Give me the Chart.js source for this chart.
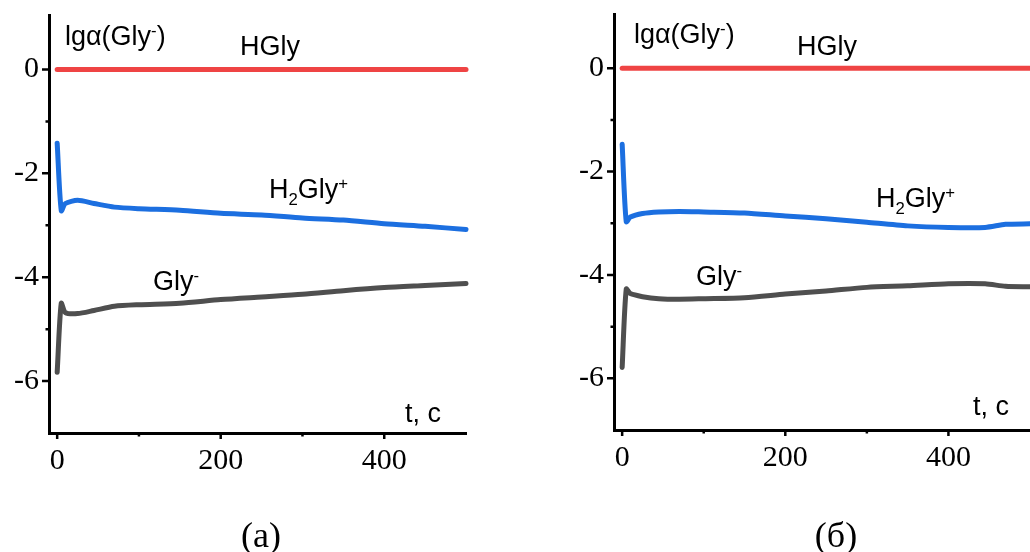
<!DOCTYPE html>
<html>
<head>
<meta charset="utf-8">
<script src="https://cdn.jsdelivr.net/npm/chart.js@4.4.1/dist/chart.umd.min.js"></script>
<style>
  html, body { margin: 0; padding: 0; background: #fff; }
  body { width: 1030px; height: 552px; position: relative; overflow: hidden; }
  canvas { position: absolute; top: 0; }
  #chartA { left: 0; }
  #chartB { left: 560px; }
</style>
</head>
<body>
<canvas id="chartA" width="490" height="552"></canvas>
<canvas id="chartB" width="470" height="552"></canvas>
<script>
// ---- data: lg alpha vs time t (s) ----
const tHGly = [0, 500];
const hGly = [0, 0];

// panel (а)
const tA = [0, 5, 10, 25, 45, 70, 100, 150, 200, 250, 300, 350, 400, 450, 500];
const h2GlyA = [-1.42, -2.72, -2.58, -2.52, -2.58, -2.65, -2.68, -2.71, -2.77, -2.8, -2.86, -2.9, -2.97, -3.02, -3.08];
const glyA = [-5.83, -4.5, -4.68, -4.7, -4.64, -4.56, -4.53, -4.5, -4.43, -4.38, -4.33, -4.26, -4.2, -4.16, -4.12];

// panel (б)
const tB = [0, 5, 10, 25, 45, 70, 100, 150, 200, 250, 300, 350, 400, 445, 470, 500];
const h2GlyB = [-1.47, -2.97, -2.88, -2.81, -2.78, -2.77, -2.78, -2.8, -2.86, -2.91, -2.98, -3.05, -3.08, -3.08, -3.02, -3.01];
const glyB = [-5.79, -4.27, -4.36, -4.42, -4.46, -4.47, -4.46, -4.44, -4.37, -4.31, -4.24, -4.21, -4.17, -4.17, -4.22, -4.23];

// axis ticks
const xMajor = [0, 200, 400];
const xMinor = [100, 300];
const yMajor = [0, -2, -4, -6];
const yMinor = [-1, -3, -5];

const RED = '#ef4444';
const BLUE = '#1c6fe0';
const GREY = '#4f4f4f';

const toPoints = (xs, ys) => xs.map((x, i) => ({ x, y: ys[i] }));

const lineSet = (data, color) => ({
    data,
    borderColor: color,
    borderWidth: 5,
    borderCapStyle: 'round',
    borderJoinStyle: 'round',
    pointRadius: 0,
    tension: 0.25,
    clip: false
});

// text with sub/superscripts, drawn left to right from (x, y) baseline
function drawRich(ctx, parts, x, y, size) {
    let cx = x;
    parts.forEach(p => {
        const small = p.sub || p.sup;
        const s = small ? size * 0.62 : size;
        ctx.font = `${s}px "Liberation Sans"`;
        const dy = p.sub ? size * 0.27 : p.sup ? -size * 0.33 : 0;
        ctx.fillText(p.t, cx, y + dy);
        cx += ctx.measureText(p.t).width;
    });
}

// tick marks (major/minor) and text labels of each panel
const panelDecor = {
    id: 'panelDecor',
    afterDraw(chart, args, opts) {
        const { ctx, scales: { x, y } } = chart;
        const axX = x.left;
        const axY = y.bottom;
        ctx.save();
        ctx.strokeStyle = '#000';
        ctx.lineWidth = 2.5;
        ctx.beginPath();
        xMajor.forEach(v => { const px = x.getPixelForValue(v); ctx.moveTo(px, axY); ctx.lineTo(px, axY + 6); });
        xMinor.forEach(v => { const px = x.getPixelForValue(v); ctx.moveTo(px, axY); ctx.lineTo(px, axY + 3.5); });
        yMajor.forEach(v => { const py = y.getPixelForValue(v); ctx.moveTo(axX, py); ctx.lineTo(axX - 7, py); });
        yMinor.forEach(v => { const py = y.getPixelForValue(v); ctx.moveTo(axX, py); ctx.lineTo(axX - 3.5, py); });
        ctx.stroke();

        ctx.fillStyle = '#000';
        ctx.textAlign = 'left';
        ctx.textBaseline = 'alphabetic';
        opts.labels.forEach(l => drawRich(ctx, l.parts, l.x, l.y, 27));

        ctx.font = '36px "Liberation Serif"';
        ctx.textAlign = 'center';
        ctx.fillText(opts.caption, opts.captionX, 547);
        ctx.restore();
    }
};

function makePanel(id, t, h2, gly, box, decor) {
    const canvas = document.getElementById(id);
    return new Chart(canvas, {
        type: 'line',
        data: {
            datasets: [
                lineSet(toPoints(t, gly), GREY),
                lineSet(toPoints(t, h2), BLUE),
                lineSet(toPoints(tHGly, hGly), RED)
            ]
        },
        options: {
            responsive: false,
            animation: false,
            devicePixelRatio: 1,
            events: [],
            layout: { padding: { left: 0, right: box.padRight, top: box.top, bottom: 0 } },
            plugins: {
                legend: { display: false },
                tooltip: { enabled: false },
                panelDecor: decor
            },
            scales: {
                x: {
                    type: 'linear',
                    min: -10,
                    max: 500,
                    afterFit: s => {
                        s.height = canvas.height - box.bottom;
                        s.paddingLeft = 0;
                        s.paddingRight = 0;
                    },
                    grid: { display: false, drawTicks: false },
                    border: { display: true, color: '#000', width: 3 },
                    ticks: {
                        stepSize: 200,
                        includeBounds: false,
                        padding: 10,
                        color: '#000',
                        font: { family: 'Liberation Serif', size: 30 },
                        callback: v => String(v)
                    }
                },
                y: {
                    type: 'linear',
                    min: -7,
                    max: 1.05,
                    afterFit: s => {
                        s.width = box.left;
                        s.paddingTop = 0;
                        s.paddingBottom = 0;
                    },
                    grid: { display: false, drawTicks: false },
                    border: { display: true, color: '#000', width: 3 },
                    ticks: {
                        stepSize: 2,
                        includeBounds: false,
                        padding: 10,
                        color: '#000',
                        font: { family: 'Liberation Serif', size: 30 },
                        callback: v => String(v)
                    }
                }
            }
        },
        plugins: [panelDecor]
    });
}

const yLabel = [{ t: 'lgα(Gly' }, { t: '-', sup: true }, { t: ')' }];
const h2Label = [{ t: 'H' }, { t: '2', sub: true }, { t: 'Gly' }, { t: '+', sup: true }];
const glyLabel = [{ t: 'Gly' }, { t: '-', sup: true }];

makePanel('chartA', tA, h2GlyA, glyA,
    { left: 49, top: 15, bottom: 433, padRight: 24 },
    {
        caption: '(а)', captionX: 261,
        labels: [
            { parts: yLabel, x: 65, y: 45 },
            { parts: [{ t: 'HGly' }], x: 240, y: 55 },
            { parts: h2Label, x: 269, y: 198 },
            { parts: glyLabel, x: 153, y: 290 },
            { parts: [{ t: 't, с' }], x: 405, y: 422 }
        ]
    });

makePanel('chartB', tB, h2GlyB, glyB,
    { left: 54, top: 14, bottom: 430, padRight: 0 },
    {
        caption: '(б)', captionX: 276,
        labels: [
            { parts: yLabel, x: 74, y: 43 },
            { parts: [{ t: 'HGly' }], x: 237, y: 55 },
            { parts: h2Label, x: 316, y: 207 },
            { parts: glyLabel, x: 136, y: 285 },
            { parts: [{ t: 't, с' }], x: 413, y: 415 }
        ]
    });
</script>
</body>
</html>
